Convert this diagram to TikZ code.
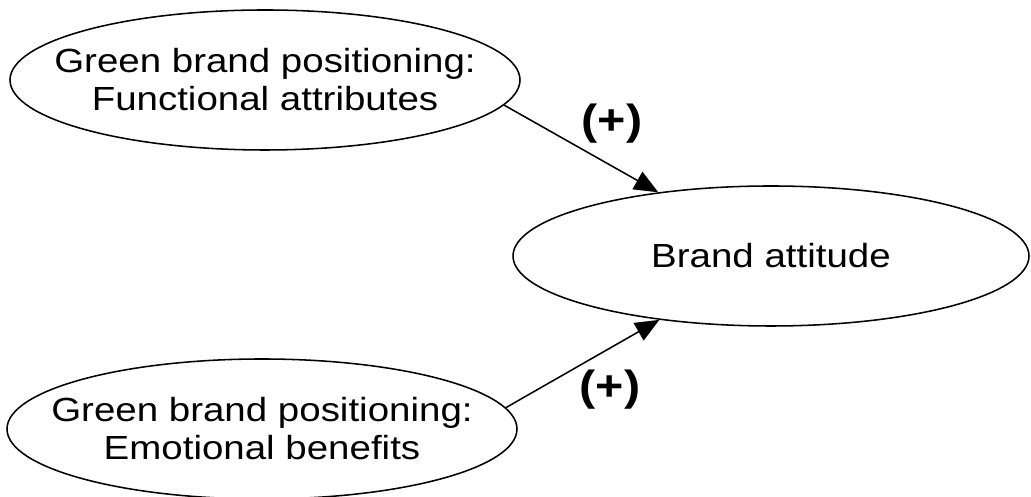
\documentclass[tikz,border=0pt]{standalone}
\usepackage{fontspec}
\setmainfont{Liberation Sans}[FakeStretch=1.15]
\usetikzlibrary{shapes.geometric,arrows.meta}

\tikzset{
	construct/.style={ellipse, draw, line width=1.1pt, inner xsep=-1.5cm, inner ysep=0pt,
		minimum width=12.75cm, minimum height=3.5cm, align=center,
		font=\fontsize{23.8}{27}\selectfont},
	effect/.style={font=\fontsize{30}{32}\selectfont\bfseries}
}

\begin{document}
\begin{tikzpicture}[line join=round, >={Triangle[length=0.6cm,width=0.5cm]}]
	% Khung bao
	\useasboundingbox (0,0) rectangle (25.775,12.425);
	% Hai yếu tố định vị thương hiệu xanh
	\node[construct] (fa) at (6.625,10.425) {Green brand positioning:\\Functional attributes};
	\node[construct] (eb) at (6.55,1.7) {Green brand positioning:\\Emotional benefits};
	% Thái độ đối với thương hiệu
	\node[construct, minimum width=12.9cm] (ba) at (19.275,6.025) {Brand attitude};
	% Các mũi tên tác động
	\draw[->, line width=1.1pt] (fa.-6.5) -- (ba);
	\draw[->, line width=1.1pt] (eb.5) -- (ba);
	% Dấu của tác động
	\node[effect] (pfa) at (15.3,9.325) {(+)};
	\node[effect] (peb) at (15.25,2.675) {(+)};
\end{tikzpicture}
\end{document}
